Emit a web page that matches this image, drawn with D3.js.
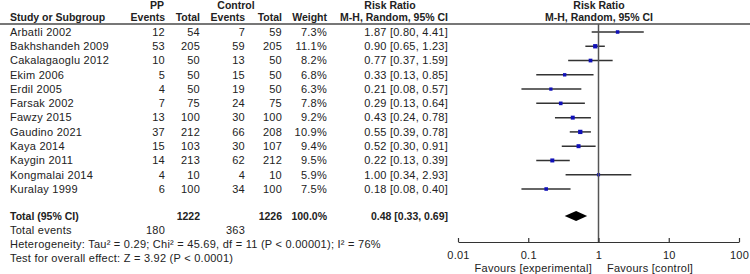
<!DOCTYPE html>
<html>
<head>
<meta charset="utf-8">
<script src="https://cdn.jsdelivr.net/npm/d3@7"></script>
<style>
  body { margin: 0; background: #fff; }
  svg text { font-family: "Liberation Sans", Arial, sans-serif; font-size: 11px; fill: #222; letter-spacing: 0.25px; }
  svg .bold text { letter-spacing: 0; font-size: 10.5px; }
</style>
</head>
<body>
<div id="chart-area"></div>
<script>
var studies = ["Arbatli 2002", "Bakhshandeh 2009", "Cakalagaoglu 2012", "Ekim 2006", "Erdil 2005",
    "Farsak 2002", "Fawzy 2015", "Gaudino 2021", "Kaya 2014", "Kaygin 2011", "Kongmalai 2014", "Kuralay 1999"];
var ppEvents = [12, 53, 10, 5, 4, 7, 13, 37, 15, 14, 4, 6];
var ppTotal = [54, 205, 50, 50, 50, 75, 100, 212, 103, 213, 10, 100];
var ctrlEvents = [7, 59, 13, 15, 19, 24, 30, 66, 30, 62, 4, 34];
var ctrlTotal = [59, 205, 50, 50, 50, 75, 100, 208, 107, 212, 10, 100];
var weights = [7.3, 11.1, 8.2, 6.8, 6.3, 7.8, 9.2, 10.9, 9.4, 9.5, 5.9, 7.5];
var rr = [1.87, 0.90, 0.77, 0.33, 0.21, 0.29, 0.43, 0.55, 0.52, 0.22, 1.00, 0.18];
var rrLow = [0.80, 0.65, 0.37, 0.13, 0.08, 0.13, 0.24, 0.39, 0.30, 0.13, 0.34, 0.08];
var rrHigh = [4.41, 1.23, 1.59, 0.85, 0.57, 0.64, 0.78, 0.78, 0.91, 0.39, 2.93, 0.40];

var total = { pp: 1222, ctrl: 1226, weight: 100.0, rr: 0.48, lo: 0.33, hi: 0.69, ppEvents: 180, ctrlEvents: 363 };
var axisTicks = [0.01, 0.1, 1, 10, 100];
var heterogeneity = "Heterogeneity: Tau\u00b2 = 0.29; Chi\u00b2 = 45.69, df = 11 (P < 0.00001); I\u00b2 = 76%";
var overallTest = "Test for overall effect: Z = 3.92 (P < 0.0001)";

var width = 750, height = 274;
var f2 = d3.format(".2f");

var svg = d3.select("#chart-area")
    .append("svg")
    .attr("width", width)
    .attr("height", height);

var data = studies.map((s, i) => ({
    study: s, ppE: ppEvents[i], ppN: ppTotal[i], cE: ctrlEvents[i], cN: ctrlTotal[i],
    w: weights[i], rr: rr[i], lo: rrLow[i], hi: rrHigh[i]
}));

// row positions
var y = d3.scalePoint()
    .domain(studies)
    .range([32, 189]);
var yTotal = 216, yEvents = 230, yHet = 244, yTest = 258;

// forest plot x
var x = d3.scaleLog()
    .domain([0.01, 100])
    .range([458, 739]);
var axisY = 242;

// column right edges
var col = { study: 10, ppE: 165, ppN: 200, cE: 245, cN: 282, w: 327, rr: 448 };

// headers
var hdr = svg.append("g").attr("class", "bold").attr("font-weight", "bold");
hdr.append("text").attr("x", 157).attr("y", 9).attr("text-anchor", "middle").text("PP");
hdr.append("text").attr("x", 236).attr("y", 9).attr("text-anchor", "middle").text("Control");
hdr.append("text").attr("x", 390).attr("y", 9).attr("text-anchor", "middle").text("Risk Ratio");
hdr.append("text").attr("x", 599).attr("y", 9).attr("text-anchor", "middle").text("Risk Ratio");
hdr.append("text").attr("x", col.study).attr("y", 21).text("Study or Subgroup");
hdr.append("text").attr("x", col.ppE).attr("y", 21).attr("text-anchor", "end").text("Events");
hdr.append("text").attr("x", col.ppN).attr("y", 21).attr("text-anchor", "end").text("Total");
hdr.append("text").attr("x", col.cE).attr("y", 21).attr("text-anchor", "end").text("Events");
hdr.append("text").attr("x", col.cN).attr("y", 21).attr("text-anchor", "end").text("Total");
hdr.append("text").attr("x", col.w).attr("y", 21).attr("text-anchor", "end").text("Weight");
hdr.append("text").attr("x", col.rr).attr("y", 21).attr("text-anchor", "end").text("M-H, Random, 95% CI");
hdr.append("text").attr("x", 599).attr("y", 21).attr("text-anchor", "middle").text("M-H, Random, 95% CI");

svg.append("line")
    .attr("x1", 0).attr("x2", width)
    .attr("y1", 24).attr("y2", 24)
    .attr("stroke", "#777")
    .attr("stroke-width", 2);

// study rows
var rows = svg.selectAll(".row")
    .data(data)
    .enter()
    .append("g")
    .attr("class", "row")
    .attr("transform", d => `translate(0, ${y(d.study)})`);

function cell(sel, xPos, anchor, fn) {
    sel.append("text")
        .attr("x", xPos)
        .attr("dy", "0.35em")
        .attr("text-anchor", anchor)
        .text(fn);
}
cell(rows, col.study, "start", d => d.study);
cell(rows, col.ppE, "end", d => d.ppE);
cell(rows, col.ppN, "end", d => d.ppN);
cell(rows, col.cE, "end", d => d.cE);
cell(rows, col.cN, "end", d => d.cN);
cell(rows, col.w, "end", d => d3.format(".1f")(d.w) + "%");
cell(rows, col.rr, "end", d => `${f2(d.rr)} [${f2(d.lo)}, ${f2(d.hi)}]`);

// line of no effect
svg.append("line")
    .attr("x1", x(1)).attr("x2", x(1))
    .attr("y1", 24).attr("y2", axisY)
    .attr("stroke", "#555")
    .attr("stroke-width", 1.5);

// CI lines and squares
rows.append("line")
    .attr("x1", d => x(d.lo))
    .attr("x2", d => x(d.hi))
    .attr("stroke", "#333")
    .attr("stroke-width", 1.5);

rows.append("rect")
    .attr("x", d => x(d.rr) - 0.65 * Math.sqrt(d.w))
    .attr("y", d => -0.65 * Math.sqrt(d.w))
    .attr("width", d => 1.3 * Math.sqrt(d.w))
    .attr("height", d => 1.3 * Math.sqrt(d.w))
    .attr("fill", "#1010b8");

// total row
var tot = svg.append("g")
    .attr("class", "bold")
    .attr("transform", `translate(0, ${yTotal})`)
    .attr("font-weight", "bold");
cell(tot, col.study, "start", "Total (95% CI)");
cell(tot, col.ppN, "end", total.pp);
cell(tot, col.cN, "end", total.ctrl);
cell(tot, col.w, "end", d3.format(".1f")(total.weight) + "%");
cell(tot, col.rr, "end", `${f2(total.rr)} [${f2(total.lo)}, ${f2(total.hi)}]`);

svg.append("polygon")
    .attr("points", [
        [x(total.lo), yTotal], [x(total.rr), yTotal - 5],
        [x(total.hi), yTotal], [x(total.rr), yTotal + 5]
    ].map(p => p.join(",")).join(" "))
    .attr("fill", "#000");

var ev = svg.append("g").attr("transform", `translate(0, ${yEvents})`);
cell(ev, col.study, "start", "Total events");
cell(ev, col.ppE, "end", total.ppEvents);
cell(ev, col.cE, "end", total.ctrlEvents);

var het = svg.append("g").attr("transform", `translate(0, ${yHet})`);
cell(het, col.study, "start", heterogeneity);
var tst = svg.append("g").attr("transform", `translate(0, ${yTest})`);
cell(tst, col.study, "start", overallTest);

// axis
var xAxis = d3.axisBottom(x)
    .tickValues(axisTicks)
    .tickFormat(d => d >= 1 ? d3.format("d")(d) : String(d))
    .tickSize(-4)
    .tickSizeOuter(0)
    .tickPadding(9);

var ax = svg.append("g")
    .attr("transform", `translate(0, ${axisY})`)
    .call(xAxis);
ax.select(".domain").attr("stroke", "#333").attr("stroke-width", 1.2);
ax.selectAll(".tick line").attr("stroke", "#333").attr("stroke-width", 1.2);
ax.selectAll(".tick text")
    .attr("font-family", "Liberation Sans, Arial, sans-serif")
    .attr("font-size", "11px")
    .attr("fill", "#222");

svg.append("text")
    .attr("x", 592).attr("y", 268)
    .attr("dy", "0.35em")
    .attr("text-anchor", "end")
    .text("Favours [experimental]");
svg.append("text")
    .attr("x", 607).attr("y", 268)
    .attr("dy", "0.35em")
    .text("Favours [control]");
</script>
</body>
</html>
